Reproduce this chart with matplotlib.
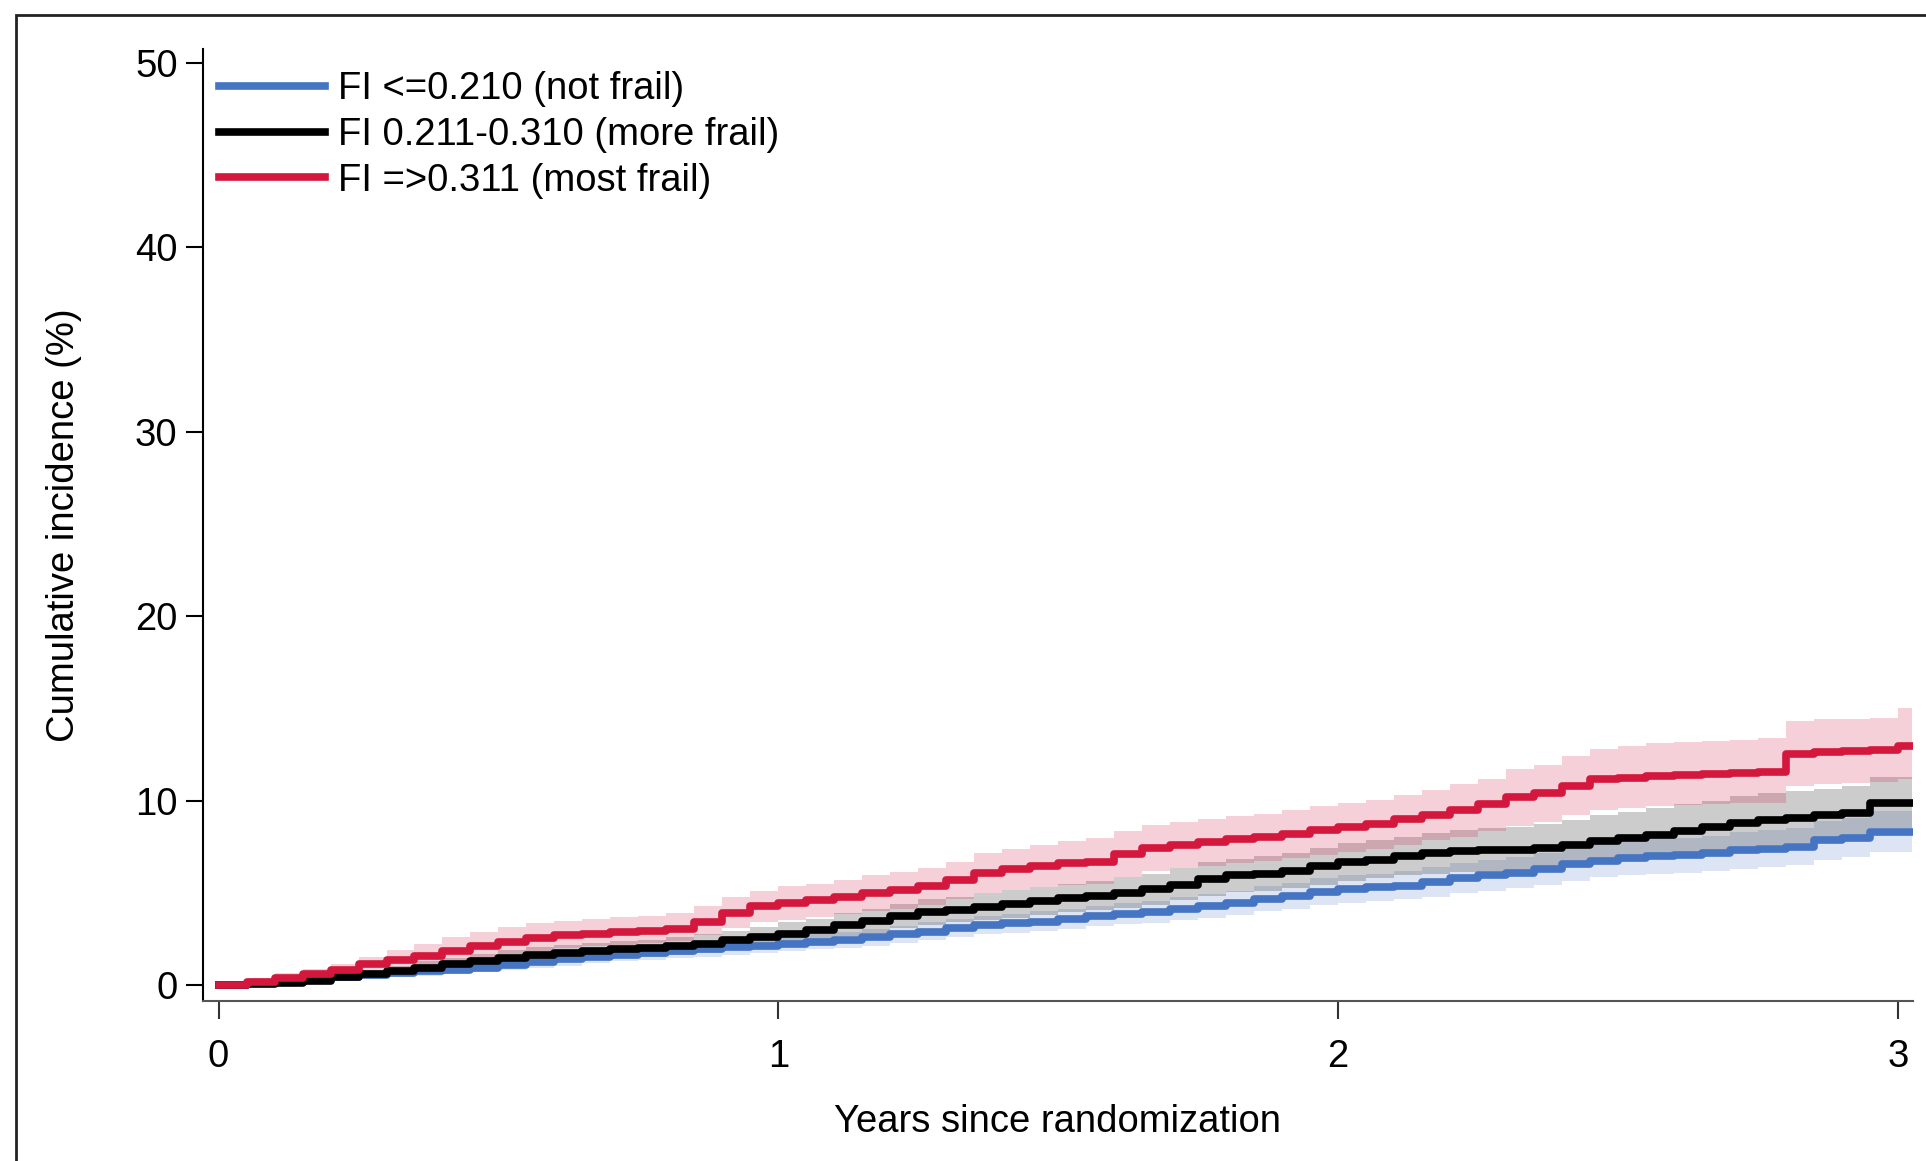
import matplotlib
matplotlib.use("Agg")
import matplotlib.pyplot as plt
import matplotlib.patches as patches
import numpy as np

plt.rcParams['font.family'] = ['Liberation Sans', 'DejaVu Sans']

# years since randomization
t = [0.00, 0.05, 0.10, 0.15, 0.20, 0.25, 0.30, 0.35, 0.40, 0.45,
     0.50, 0.55, 0.60, 0.65, 0.70, 0.75, 0.80, 0.85, 0.90, 0.95,
     1.00, 1.05, 1.10, 1.15, 1.20, 1.25, 1.30, 1.35, 1.40, 1.45,
     1.50, 1.55, 1.60, 1.65, 1.70, 1.75, 1.80, 1.85, 1.90, 1.95,
     2.00, 2.05, 2.10, 2.15, 2.20, 2.25, 2.30, 2.35, 2.40, 2.45,
     2.50, 2.55, 2.60, 2.65, 2.70, 2.75, 2.80, 2.85, 2.90, 2.95,
     3.00, 3.025]

# FI <=0.210 (not frail)
blue = [0, 0.1, 0.2, 0.3, 0.45, 0.55, 0.65, 0.75, 0.85, 0.95,
        1.1, 1.25, 1.4, 1.55, 1.65, 1.72, 1.85, 1.95, 2.05, 2.15,
        2.25, 2.35, 2.45, 2.6, 2.75, 2.9, 3.1, 3.25, 3.35, 3.45,
        3.6, 3.75, 3.85, 3.95, 4.15, 4.3, 4.45, 4.65, 4.85, 5.05,
        5.2, 5.3, 5.4, 5.6, 5.8, 5.95, 6.1, 6.3, 6.55, 6.75,
        6.9, 7.0, 7.05, 7.15, 7.3, 7.4, 7.5, 7.85, 8.0, 8.3,
        8.3, 8.3]
blue_hi = [0.05, 0.2, 0.35, 0.45, 0.65, 0.8, 0.9, 1.0, 1.15, 1.25,
           1.4, 1.6, 1.75, 1.9, 2.05, 2.1, 2.25, 2.35, 2.45, 2.55,
           2.65, 2.8, 2.9, 3.05, 3.2, 3.4, 3.6, 3.75, 3.85, 4.0,
           4.15, 4.3, 4.45, 4.55, 4.8, 4.95, 5.1, 5.35, 5.55, 5.8,
           5.95, 6.05, 6.2, 6.4, 6.6, 6.8, 6.95, 7.15, 7.45, 7.65,
           7.85, 7.95, 8.0, 8.1, 8.3, 8.4, 8.5, 8.9, 9.05, 9.45,
           9.45, 9.45]
blue_lo = [0, 0.03, 0.1, 0.15, 0.25, 0.35, 0.45, 0.5, 0.6, 0.7,
           0.8, 0.95, 1.05, 1.2, 1.3, 1.35, 1.45, 1.55, 1.65, 1.75,
           1.85, 1.95, 2.0, 2.15, 2.3, 2.45, 2.6, 2.75, 2.85, 2.95,
           3.05, 3.2, 3.3, 3.35, 3.55, 3.65, 3.8, 4.0, 4.15, 4.35,
           4.45, 4.55, 4.65, 4.8, 5.0, 5.1, 5.25, 5.45, 5.65, 5.85,
           5.95, 6.05, 6.1, 6.2, 6.3, 6.4, 6.5, 6.8, 6.95, 7.2,
           7.2, 7.2]

# FI 0.211-0.310 (more frail)
black = [0, 0.05, 0.1, 0.25, 0.45, 0.6, 0.75, 0.95, 1.15, 1.3,
         1.5, 1.65, 1.75, 1.85, 1.95, 2.0, 2.1, 2.25, 2.45, 2.6,
         2.8, 3.0, 3.25, 3.5, 3.75, 3.95, 4.1, 4.25, 4.4, 4.55,
         4.7, 4.85, 5.0, 5.2, 5.45, 5.75, 5.95, 6.05, 6.2, 6.45,
         6.65, 6.8, 7.0, 7.15, 7.25, 7.3, 7.35, 7.45, 7.6, 7.8,
         8.0, 8.15, 8.35, 8.55, 8.8, 8.95, 9.05, 9.2, 9.35, 9.85,
         9.85, 9.85]
black_hi = [0.05, 0.15, 0.25, 0.45, 0.7, 0.85, 1.05, 1.3, 1.5, 1.7,
            1.9, 2.05, 2.2, 2.3, 2.4, 2.45, 2.6, 2.75, 2.95, 3.15,
            3.4, 3.6, 3.9, 4.15, 4.4, 4.65, 4.8, 5.0, 5.15, 5.3,
            5.5, 5.65, 5.85, 6.05, 6.35, 6.65, 6.85, 7.0, 7.15, 7.45,
            7.7, 7.85, 8.05, 8.25, 8.4, 8.5, 8.6, 8.75, 8.95, 9.2,
            9.4, 9.6, 9.8, 10.0, 10.25, 10.4, 10.5, 10.65, 10.8, 11.3,
            11.3, 11.3]
black_lo = [0, 0, 0.02, 0.1, 0.25, 0.35, 0.5, 0.65, 0.8, 0.95,
            1.1, 1.25, 1.35, 1.4, 1.5, 1.55, 1.65, 1.75, 1.95, 2.05,
            2.25, 2.45, 2.65, 2.85, 3.1, 3.25, 3.4, 3.55, 3.65, 3.8,
            3.95, 4.05, 4.2, 4.35, 4.6, 4.85, 5.05, 5.1, 5.25, 5.45,
            5.65, 5.8, 5.95, 6.05, 6.15, 6.2, 6.25, 6.35, 6.45, 6.6,
            6.8, 6.9, 7.1, 7.25, 7.45, 7.6, 7.7, 7.8, 7.95, 8.5,
            8.5, 8.5]

# FI =>0.311 (most frail)
red = [0, 0.2, 0.4, 0.6, 0.8, 1.15, 1.35, 1.6, 1.85, 2.1,
       2.35, 2.55, 2.7, 2.8, 2.9, 2.95, 3.05, 3.4, 3.9, 4.3,
       4.45, 4.6, 4.8, 5.0, 5.15, 5.35, 5.7, 6.1, 6.3, 6.45,
       6.6, 6.7, 7.1, 7.45, 7.6, 7.75, 7.9, 8.05, 8.2, 8.4,
       8.55, 8.75, 9.0, 9.25, 9.5, 9.8, 10.2, 10.4, 10.8, 11.15,
       11.25, 11.35, 11.4, 11.45, 11.5, 11.55, 12.55, 12.65, 12.7, 12.75,
       12.95, 12.95]
red_hi = [0.1, 0.4, 0.65, 0.9, 1.15, 1.55, 1.9, 2.25, 2.6, 2.9,
          3.15, 3.35, 3.5, 3.6, 3.7, 3.75, 3.9, 4.3, 4.8, 5.1,
          5.35, 5.5, 5.7, 5.95, 6.15, 6.35, 6.7, 7.15, 7.4, 7.6,
          7.8, 8.0, 8.35, 8.7, 8.85, 9.0, 9.15, 9.3, 9.5, 9.7,
          9.85, 10.05, 10.3, 10.6, 10.9, 11.2, 11.7, 11.95, 12.4, 12.8,
          12.95, 13.1, 13.2, 13.25, 13.3, 13.4, 14.3, 14.4, 14.45, 14.5,
          15.0, 15.0]
red_lo = [0, 0.05, 0.2, 0.35, 0.5, 0.8, 0.95, 1.1, 1.3, 1.5,
          1.7, 1.85, 2.0, 2.1, 2.2, 2.3, 2.4, 2.7, 3.1, 3.4,
          3.55, 3.7, 3.85, 4.0, 4.15, 4.35, 4.65, 5.0, 5.15, 5.3,
          5.45, 5.5, 5.85, 6.2, 6.35, 6.45, 6.6, 6.75, 6.9, 7.05,
          7.2, 7.4, 7.6, 7.85, 8.05, 8.35, 8.65, 8.85, 9.2, 9.5,
          9.6, 9.7, 9.75, 9.8, 9.85, 9.9, 10.8, 10.9, 10.95, 11.0,
          11.2, 11.2]

labels = ['FI <=0.210 (not frail)', 'FI 0.211-0.310 (more frail)', 'FI =>0.311 (most frail)']
c_blue = '#4474c2'
c_black = '#000000'
c_red = '#d4173c'
fs = 27.5

fig = plt.figure(figsize=(19.26, 11.61), dpi=100)
ax = fig.add_axes([0.1052, 0.1376, 0.8878, 0.8201])

# confidence bands
ax.fill_between(t, blue_lo, blue_hi, step='post', color=c_blue, alpha=0.18, lw=0)
ax.fill_between(t, black_lo, black_hi, step='post', color='#000000', alpha=0.2, lw=0)
ax.fill_between(t, red_lo, red_hi, step='post', color=c_red, alpha=0.2, lw=0)

ax.plot(t, blue, drawstyle='steps-post', color=c_blue, lw=5.5, label=labels[0])
ax.plot(t, black, drawstyle='steps-post', color=c_black, lw=5.5, label=labels[1])
ax.plot(t, red, drawstyle='steps-post', color=c_red, lw=5.5, label=labels[2])

ax.set_xlim(-0.0285, 3.026)
ax.set_ylim(-0.87, 50.73)
ax.set_xticks([0, 1, 2, 3])
ax.set_yticks([0, 10, 20, 30, 40, 50])
ax.tick_params(axis='both', direction='out', labelsize=fs, width=1.5)
ax.tick_params(axis='y', length=12, pad=6)
ax.tick_params(axis='x', length=13, pad=14, color='#333333')
ax.spines['top'].set_visible(False)
ax.spines['right'].set_visible(False)
ax.spines['left'].set_linewidth(1.5)
ax.spines['bottom'].set_linewidth(1.5)
ax.spines['bottom'].set_color('#555555')

ax.set_xlabel('Years since randomization', fontsize=fs)
ax.set_ylabel('Cumulative incidence (%)', fontsize=fs)
ax.xaxis.set_label_coords(0.5, -0.1265)
ax.yaxis.set_label_coords(-0.0812, 0.5)
ax.xaxis.label.set_va('center')
ax.yaxis.label.set_va('center')

ax.legend(loc='upper left', bbox_to_anchor=(0.0093, 0.9765), frameon=False,
          fontsize=fs, handlelength=2.8, handletextpad=0.32,
          labelspacing=0.25, borderpad=0, borderaxespad=0)

# outer frame
fig.patches.append(patches.Rectangle((0.0083, -0.1), 1.2, 1.087, transform=fig.transFigure,
                                     fill=False, ec='#222222', lw=2, clip_on=False))

fig.savefig('out.png', dpi=100)
